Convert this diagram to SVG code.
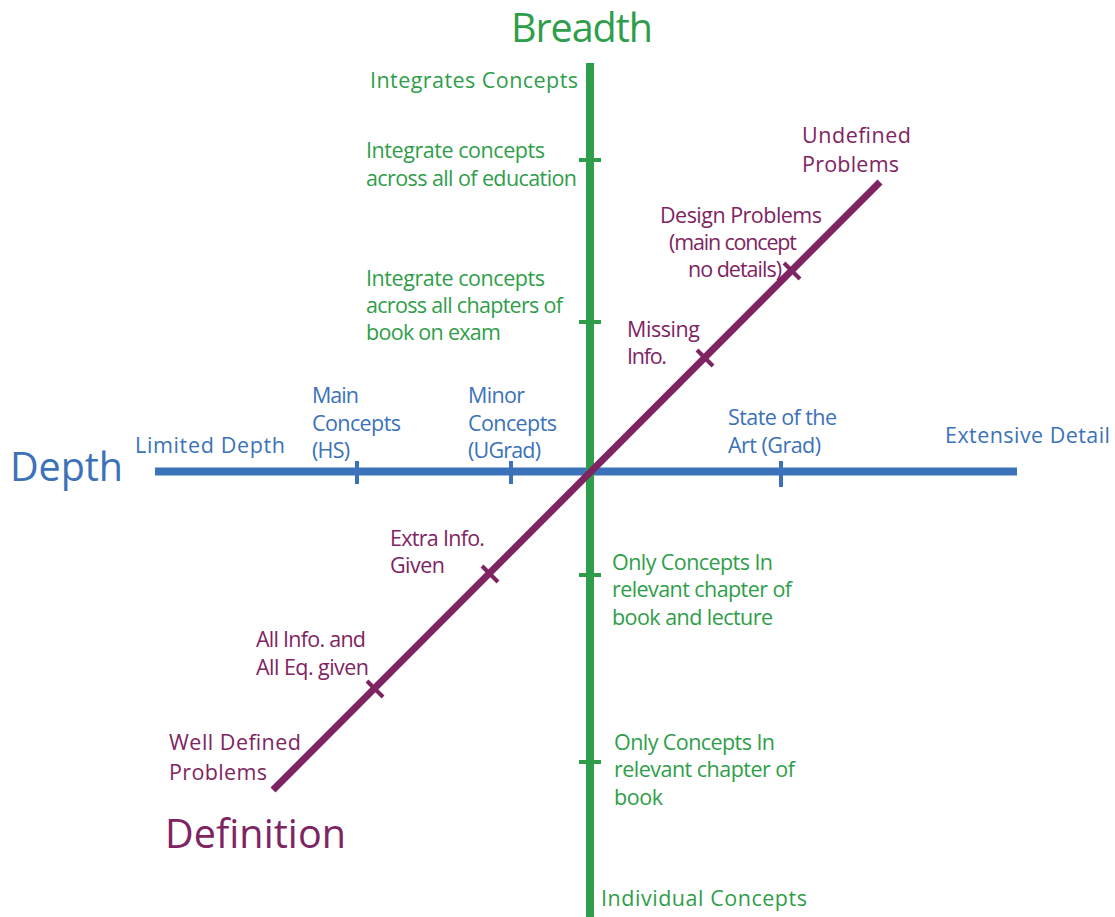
<svg xmlns="http://www.w3.org/2000/svg" width="1115" height="917" viewBox="0 0 1115 917">
<style>
text{font-family:"Open Sans","Liberation Sans",sans-serif;font-size:21.5px}
.g{fill:#2f9e4a}.b{fill:#3b72b9}.p{fill:#7f2462}
.title{font-size:39.5px}
.axg{stroke:#2f9e4a;stroke-width:8;fill:none}
.axb{stroke:#3b72b9;stroke-width:8;fill:none}
.axp{stroke:#7f2462;stroke-width:7;fill:none}
.tg{stroke:#2f9e4a;stroke-width:4}
.tb{stroke:#3b72b9;stroke-width:4}
.tp{stroke:#7f2462;stroke-width:4}
</style>
<rect width="1115" height="917" fill="#ffffff"/>
<g id="connectors">
<line class="axb" x1="155" y1="471.5" x2="1017" y2="471.5"/>
<line class="axg" x1="590" y1="63" x2="590" y2="917"/>
<line class="axp" x1="273" y1="790" x2="880" y2="182"/>
<line class="tg" x1="579" y1="160" x2="601" y2="160"/>
<line class="tg" x1="579" y1="322" x2="601" y2="322"/>
<line class="tg" x1="579" y1="575" x2="601" y2="575"/>
<line class="tg" x1="579" y1="762" x2="601" y2="762"/>
<line class="tb" x1="357" y1="461" x2="357" y2="484"/>
<line class="tb" x1="511" y1="461" x2="511" y2="484"/>
<line class="tb" x1="781" y1="461" x2="781" y2="487"/>
<line class="tp" x1="367" y1="681" x2="383" y2="697"/>
<line class="tp" x1="482" y1="566" x2="498" y2="582"/>
<line class="tp" x1="697" y1="350" x2="713" y2="366"/>
<line class="tp" x1="784" y1="263" x2="800" y2="279"/>
</g>
<g id="breadth-title"><text class="g title" x="511" y="42" textLength="142">Breadth</text></g>
<g id="depth-title"><text class="b title" x="10" y="481" textLength="113">Depth</text></g>
<g id="definition-title"><text class="p title" x="165" y="848" textLength="181">Definition</text></g>
<g id="integrates"><text class="g" x="370" y="88" textLength="208">Integrates Concepts</text></g>
<g id="education"><text class="g" x="366" y="158" textLength="179">Integrate concepts</text><text class="g" x="366" y="186" textLength="211">across all of education</text></g>
<g id="chapters"><text class="g" x="366" y="286" textLength="179">Integrate concepts</text><text class="g" x="366" y="313" textLength="197">across all chapters of</text><text class="g" x="366" y="340" textLength="135">book on exam</text></g>
<g id="only-lecture"><text class="g" x="612" y="570" textLength="161">Only Concepts In</text><text class="g" x="612" y="597" textLength="180">relevant chapter of</text><text class="g" x="612" y="625" textLength="161">book and lecture</text></g>
<g id="only-book"><text class="g" x="614" y="750" textLength="161">Only Concepts In</text><text class="g" x="614" y="777" textLength="181">relevant chapter of</text><text class="g" x="614" y="805" textLength="49">book</text></g>
<g id="individual"><text class="g" x="601" y="906" textLength="206">Individual Concepts</text></g>
<g id="limited"><text class="b" x="135" y="453" textLength="150">Limited Depth</text></g>
<g id="main"><text class="b" x="312" y="403" textLength="47">Main</text><text class="b" x="312" y="431" textLength="89">Concepts</text><text class="b" x="312" y="458" textLength="38">(HS)</text></g>
<g id="minor"><text class="b" x="468" y="403" textLength="57">Minor</text><text class="b" x="468" y="431" textLength="89">Concepts</text><text class="b" x="468" y="458" textLength="73">(UGrad)</text></g>
<g id="state"><text class="b" x="728" y="425" textLength="109">State of the</text><text class="b" x="728" y="453" textLength="93">Art (Grad)</text></g>
<g id="extensive"><text class="b" x="945" y="443" textLength="165">Extensive Detail</text></g>
<g id="undefined"><text class="p" x="802" y="143" textLength="109">Undefined</text><text class="p" x="802" y="172" textLength="97">Problems</text></g>
<g id="design"><text class="p" x="660" y="223" textLength="162">Design Problems</text><text class="p" x="669" y="250" textLength="128">(main concept</text><text class="p" x="688" y="277" textLength="94">no details)</text></g>
<g id="missing"><text class="p" x="627" y="337" textLength="73">Missing</text><text class="p" x="627" y="364" textLength="40">Info.</text></g>
<g id="extra"><text class="p" x="390" y="546" textLength="95">Extra Info.</text><text class="p" x="390" y="573" textLength="55">Given</text></g>
<g id="allinfo"><text class="p" x="256" y="647" textLength="110">All Info. and</text><text class="p" x="256" y="675" textLength="113">All Eq. given</text></g>
<g id="welldefined"><text class="p" x="169" y="750" textLength="132">Well Defined</text><text class="p" x="169" y="780" textLength="98">Problems</text></g>
</svg>
